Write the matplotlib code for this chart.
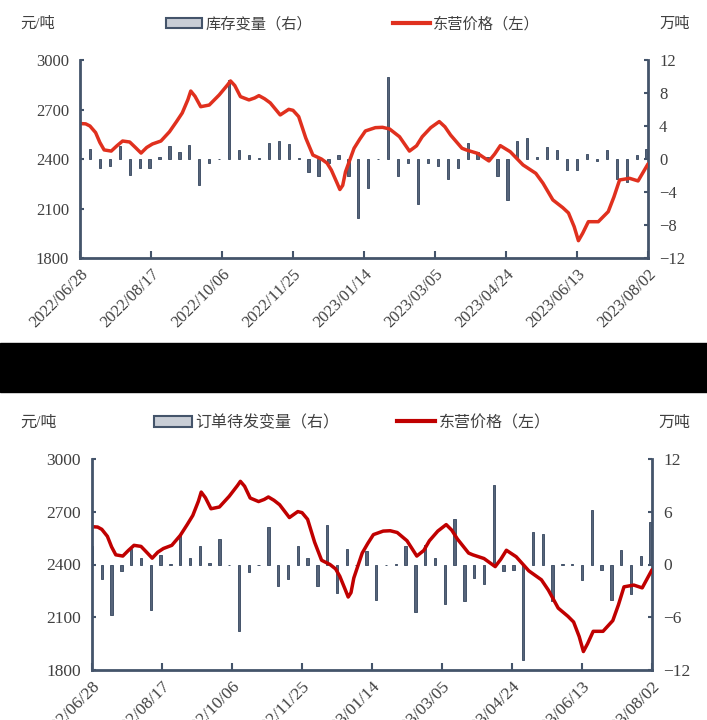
import numpy as np
import pandas as pd
import matplotlib
matplotlib.use('Agg')
import matplotlib.pyplot as plt
import matplotlib.dates as mdates
from matplotlib.patches import Rectangle, Patch
from matplotlib.lines import Line2D

plt.rcParams['font.family'] = ['Liberation Serif', 'Noto Sans CJK SC']

# 东营价格 (元/吨) as (day offset from 2022/06/28, price)
price_day = [0, 4, 7, 11, 14, 17, 22, 26, 30, 35, 39, 43, 47, 51, 57, 63, 68, 72, 76,
             78, 81, 85, 91, 98, 104, 106, 109, 113, 119, 123, 126, 130, 134, 141, 147,
             150, 154, 159, 164, 170, 174, 177, 181, 183, 185, 187, 193, 197, 201, 208,
             213, 218, 225, 232, 237, 241, 247, 253, 257, 261, 269, 272, 280, 288, 292,
             296, 303, 312, 321, 326, 333, 340, 344, 348, 351, 354, 358, 365, 372, 376,
             380, 387, 393, 400]
price = [2615, 2613, 2600, 2560, 2500, 2455, 2448, 2480, 2509, 2503, 2470, 2436, 2470,
         2491, 2509, 2565, 2627, 2679, 2760, 2812, 2780, 2717, 2727, 2788, 2850, 2873,
         2845, 2778, 2758, 2770, 2784, 2765, 2740, 2667, 2701, 2695, 2657, 2527, 2424,
         2400, 2375, 2333, 2255, 2215, 2240, 2323, 2465, 2520, 2570, 2590, 2592, 2582,
         2535, 2448, 2480, 2535, 2590, 2627, 2595, 2545, 2465, 2455, 2434, 2388, 2430,
         2481, 2444, 2364, 2313, 2254, 2152, 2105, 2073, 1990, 1905, 1950, 2020, 2020,
         2081, 2170, 2273, 2283, 2267, 2370]

# 库存变量 (万吨), weekly from 2022/07/05
stock_chg = [1.2, -1.1, -0.85, 1.6, -1.9, -1.1, -1.05, 0.2, 1.6, 0.8, 1.7, -3.1, -0.5, 0,
             9.6, 1.1, 0.5, 0.1, 1.9, 2.2, 1.8, 0.1, -1.6, -2.0, -0.5, 0.5, -2.0, -7.1,
             -3.5, 0, 9.9, -2.0, -0.5, -5.4, -0.5, -0.8, -2.4, -1.1, 1.9, 0.9, 0.3, -2.0,
             -5.0, 2.2, 2.5, 0.2, 1.5, 1.1, -1.3, -1.3, 0.6, -0.3, 1.1, -2.4, -2.8, 0.5, 1.2]

# 订单待发变量 (万吨), weekly from 2022/06/28
order_chg = [2.1, -1.7, -5.7, -0.75, 1.75, 0.75, -5.2, 1.1, 0.1, 3.4, 0.75, 2.1, 0.2, 2.9,
             0, -7.6, -0.9, -0.1, 4.3, -2.4, -1.6, 2.1, 0.75, -2.5, 4.5, -3.2, 1.75, 0,
             1.5, -4.05, 0, 0.1, 2.1, -5.45, 2.2, 0.7, -4.5, 5.15, -4.2, -1.5, -2.2, 9.0,
             -0.75, -0.65, -10.9, 3.65, 3.5, -4.2, 0.05, 0.05, -1.8, 6.2, -0.65, -4.05,
             1.7, -3.4, 0.95, 4.85]

start = pd.Timestamp('2022-06-28')
end = pd.Timestamp('2023-08-02')
price_dates = start + pd.to_timedelta(price_day, unit='D')
stock_dates = pd.date_range('2022-07-05', periods=len(stock_chg), freq='7D')
order_dates = pd.date_range('2022-06-28', periods=len(order_chg), freq='7D')
xtick_dates = pd.date_range(start, end, freq='50D')

W, H = 707, 720
axis_col = '#44546A'
bar_col = '#56647A'
text_col = '#404040'

fig = plt.figure(figsize=(W / 100, H / 100), dpi=100)


def panel(box, bar_dates, bar_vals, bar_name, red, rticks, fs, leg):
    x0, y0, x1, y1 = box
    ax = fig.add_axes([x0 / W, 1 - y1 / H, (x1 - x0) / W, (y1 - y0) / H])
    ax2 = ax.twinx()
    ax2.bar(bar_dates, bar_vals, width=1.6, color=bar_col, edgecolor=axis_col, linewidth=0.7)
    ax.plot(price_dates, price, color=red, lw=2.5, solid_joinstyle='round',
            solid_capstyle='round')
    ax.set_zorder(ax2.get_zorder() + 1)
    ax.patch.set_visible(False)

    ax.set_xlim(start, end)
    ax.set_ylim(1800, 3000)
    ax.set_yticks(np.arange(1800, 3001, 300))
    ax2.set_ylim(rticks[0], rticks[-1])
    ax2.set_yticks(rticks)
    ax.set_xticks(xtick_dates)
    ax.xaxis.set_major_formatter(mdates.DateFormatter('%Y/%m/%d'))
    for lab in ax.get_xticklabels():
        lab.set_rotation(45)
        lab.set_ha('right')
        lab.set_rotation_mode('anchor')

    for s in ['top', 'right']:
        ax.spines[s].set_visible(False)
    for s in ['top', 'left', 'bottom']:
        ax2.spines[s].set_visible(False)
    for s in ['left', 'bottom']:
        ax.spines[s].set_color(axis_col)
        ax.spines[s].set_linewidth(2)
    ax2.spines['right'].set_color(axis_col)
    ax2.spines['right'].set_linewidth(2)

    ax.tick_params(axis='x', direction='in', length=5, width=1.5, color=axis_col,
                   labelsize=fs, labelcolor=text_col, pad=6)
    ax.tick_params(axis='y', direction='in', length=3, width=1.5, color=axis_col,
                   labelsize=fs, labelcolor=text_col, pad=8)
    ax2.tick_params(axis='y', direction='in', length=3, width=1.5, color=axis_col,
                    labelsize=fs, labelcolor=text_col, pad=8)

    handles = [Patch(facecolor='#C9CED6', edgecolor=axis_col, linewidth=1.5),
               Line2D([], [], color=red, lw=3)]
    lx, ly, gap = leg
    fig.legend(handles, [bar_name, '东营价格（左）'], loc='center left',
               bbox_to_anchor=(lx / W, 1 - ly / H), ncol=2, frameon=False,
               fontsize=fs - 1, handlelength=2.4, handletextpad=0.2,
               columnspacing=gap, borderpad=0, labelcolor=text_col)
    fig.text(20 / W, 1 - ly / H, '元/吨', fontsize=fs - 1, color=text_col, va='center')
    fig.text(690 / W, 1 - ly / H, '万吨', fontsize=fs - 1, color=text_col,
             va='center', ha='right')


panel((80, 60, 648, 258), stock_dates, stock_chg, '库存变量（右）', '#E0301E',
      [-12, -8, -4, 0, 4, 8, 12], 12, (158, 24, 5.3))
panel((92, 459, 652, 670), order_dates, order_chg, '订单待发变量（右）', '#C00000',
      [-12, -6, 0, 6, 12], 12.5, (146, 423, 3.6))

fig.add_artist(Rectangle((0, 1 - 392 / H), 1, 49 / H, transform=fig.transFigure,
                         color='black', zorder=10))

fig.savefig('out.png', dpi=100)
